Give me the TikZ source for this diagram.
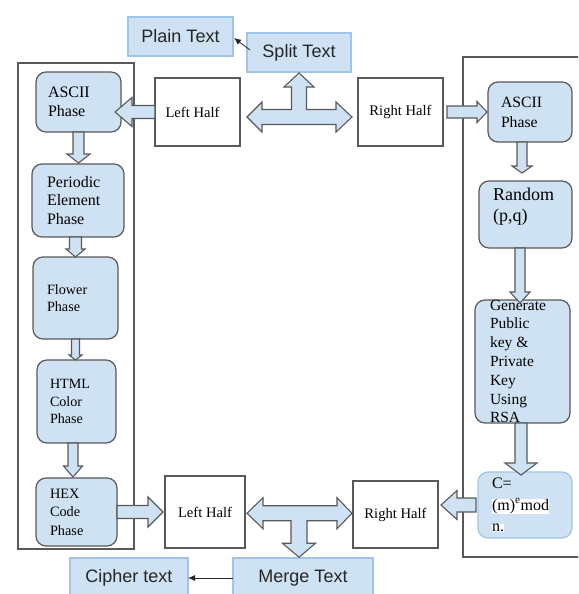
\documentclass[tikz,border=0pt]{standalone}
\usepackage{fontspec}
\setmainfont{Liberation Serif}
\newfontfamily\serf{Liberation Serif}
\newfontfamily\arialf{Liberation Sans}
\usetikzlibrary{calc,arrows.meta}
\definecolor{lb}{HTML}{CFE2F3}
\definecolor{bb}{HTML}{9FC5E8}
\definecolor{dg}{HTML}{595959}
\setlength{\fboxsep}{0pt}
\newcommand\phf[2]{\serf\fontsize{#1pt}{#2pt}\selectfont}
% block arrow: #1 start, #2 tip, #3 shaft half width, #4 head half width, #5 head length
\newcommand\blkarrow[5]{%
  \path ($(#2)!#5!(#1)$) coordinate (bah);
  \draw[blockarrow] ($(#1)!#3!90:(#2)$) -- ($(bah)!#3!90:(#2)$) -- ($(bah)!#4!90:(#2)$) -- (#2)
    -- ($(bah)!#4!-90:(#2)$) -- ($(bah)!#3!-90:(#2)$) -- ($(#1)!#3!-90:(#2)$) -- cycle;}
\begin{document}
\begin{tikzpicture}[x=1pt,y=-1pt,
  every node/.style={inner sep=0pt, outer sep=0pt, text=black},
  phase/.style={draw=dg, fill=lb, rounded corners=10pt, line width=1.2pt, align=left},
  half/.style={draw=dg, fill=white, line width=1.2pt, font=\phf{14.6}{17}},
  sansbox/.style={draw=bb, fill=lb, line width=1.2pt, font=\arialf\fontsize{18pt}{22pt}\selectfont, text=black!85},
  frame/.style={draw=dg, line width=1.2pt},
  blockarrow/.style={draw=dg, fill=lb, line width=1.1pt, line join=miter},
  thinarrow/.style={draw=black!85, line width=0.8pt, -{Latex[length=7pt,width=6pt]}}
]
\clip (0,0) rectangle (578,594);
\fill[white] (0,0) rectangle (578,594);

% frames
\node[frame, minimum width=116pt, minimum height=486pt] (lfr) at (76,306) {};
\node[frame, minimum width=140pt, minimum height=500pt] (rfr) at (533,307) {};

% top labels
\node[sansbox, minimum width=105pt, minimum height=39pt] (pt) at (180.5,36.5) {Plain Text};
\node[sansbox, minimum width=104pt, minimum height=39pt] (st) at (299,52.5) {Split Text};

% left column
\node[phase, minimum width=85pt, minimum height=60pt, text width=61pt, font=\phf{16}{19}] (asL) at (78.5,102) {ASCII\\Phase};
\node[phase, minimum width=92pt, minimum height=73pt, text width=62pt, font=\phf{16}{18.7}] (peL) at (78,200.5) {Periodic\\Element\\Phase};
\node[phase, minimum width=85pt, minimum height=82pt, text width=57pt, font=\phf{14.2}{17.5}] (flL) at (75.5,298) {Flower\\Phase};
\node[phase, minimum width=79pt, minimum height=83pt, text width=53pt, font=\phf{14.1}{17.5}] (htL) at (76.5,401.5) {HTML\\Color\\Phase};
\node[phase, minimum width=81pt, minimum height=68pt, text width=53pt, font=\phf{14.3}{18.5}] (hxL) at (76.5,512) {HEX\\Code\\Phase};

% right column
\node[phase, minimum width=84pt, minimum height=60pt, text width=58pt, font=\phf{15.7}{20}] (asR) at (530,112) {ASCII\\Phase};
\node[phase, minimum width=93pt, minimum height=67pt] (rnR) at (525.5,214.5) {};
\node[anchor=west, align=left, font=\phf{18}{21}] (rnT) at ($(rnR.west)+(14,-8)$) {Random\\(p,q)};
\node[phase, minimum width=95pt, minimum height=123pt] (gnR) at (522.5,361.5) {};
\node[anchor=west, align=left, font=\phf{15.5}{18.8}] (gnT) at ($(gnR.west)+(15,0)$) {Generate\\Public\\key \&\\Private\\Key\\Using\\RSA};
\node[phase, draw=bb, minimum width=94pt, minimum height=66pt, text width=66pt, font=\phf{16}{21.7}] (cR) at (525,505) {C=\\\colorbox{white}{(m)\textsuperscript{e}mod}\\\colorbox{white}{n.}};

% halves
\node[half, minimum width=85pt, minimum height=68pt] (lhT) at (197.5,112) {\hspace*{-10pt}Left Half};
\node[half, minimum width=85pt, minimum height=68pt] (rhT) at (400.5,112) {Right Half};
\node[half, minimum width=80pt, minimum height=72pt] (lhB) at (205,512) {Left Half};
\node[half, minimum width=85pt, minimum height=67pt] (rhB) at (395.5,514.5) {Right Half};

% bottom labels
\node[sansbox, minimum width=118pt, minimum height=40pt] (ct) at (129,578) {Cipher text};
\node[sansbox, minimum width=140pt, minimum height=40pt] (mt) at (303,578) {Merge Text};

% block arrows
\coordinate (a1s) at (lhT.west);
\coordinate (a1e) at ($(asL.east |- lhT.west)+(-6,0)$);
\blkarrow{a1s}{a1e}{6.5pt}{14.5pt}{17pt}
\coordinate (a2s) at (asL.south);
\coordinate (a2e) at ($(asL.south |- peL.north)+(0,-1)$);
\blkarrow{a2s}{a2e}{5.5pt}{11.5pt}{9pt}
\coordinate (a3s) at (flL.north |- peL.south);
\coordinate (a3e) at (flL.north);
\blkarrow{a3s}{a3e}{6pt}{9.5pt}{8pt}
\coordinate (a4s) at (flL.south);
\coordinate (a4e) at (flL.south |- htL.north);
\blkarrow{a4s}{a4e}{4pt}{6.5pt}{5pt}
\coordinate (a5s) at ($(htL.south)+(-3.5,0)$);
\coordinate (a5e) at ($(htL.south |- hxL.north)+(-3.5,-1)$);
\blkarrow{a5s}{a5e}{5pt}{9.5pt}{11pt}
\coordinate (a6s) at (hxL.east);
\coordinate (a6e) at ($(lhB.west)+(-2,0)$);
\blkarrow{a6s}{a6e}{6.5pt}{15pt}{15pt}
\coordinate (a8s) at ($(cR.west)+(-2,0)$);
\coordinate (a8e) at ($(rhB.east |- cR.west)+(3,0)$);
\blkarrow{a8s}{a8e}{7pt}{14.5pt}{16pt}
\coordinate (a9s) at ($(rhT.east)+(4,0)$);
\coordinate (a9e) at ($(asR.west)+(-1,0)$);
\blkarrow{a9s}{a9e}{6pt}{10.5pt}{10pt}
\coordinate (a10s) at ($(asR.south)+(-8,0)$);
\coordinate (a10e) at ($(asR.south |- rnR.north)+(-8,-8)$);
\blkarrow{a10s}{a10e}{5pt}{10pt}{7pt}
\coordinate (a11s) at ($(rnR.south)+(-5.5,0)$);
\coordinate (a11e) at ($(rnR.south |- gnR.north)+(-5.5,3)$);
\blkarrow{a11s}{a11e}{5pt}{10pt}{11pt}
\coordinate (a12s) at ($(gnR.south)+(-1.5,0)$);
\coordinate (a12e) at ($(gnR.south |- cR.north)+(-1.5,3)$);
\blkarrow{a12s}{a12e}{6pt}{16pt}{12pt}

% top split cross arrow
\begin{scope}[shift={($(lhT.east)!0.5!(rhT.west)+(0,5)$)}]
\draw[blockarrow] (-52,0) -- (-37,-15) -- (-37,-7.5) -- (-7.5,-7.5) -- (-7.5,-30) -- (-15,-30) -- (0,-44)
  -- (15,-30) -- (7.5,-30) -- (7.5,-7.5) -- (37,-7.5) -- (37,-15) -- (53,0) -- (37,15) -- (37,7.5)
  -- (-37,7.5) -- (-37,15) -- cycle;
\end{scope}
% bottom merge cross arrow
\begin{scope}[shift={($(lhB.east)!0.5!(rhB.west)$)}]
\draw[blockarrow] (-52,0) -- (-36,-15.5) -- (-36,-7.5) -- (38,-7.5) -- (38,-15.5) -- (53,0) -- (38,15.5)
  -- (38,7.5) -- (8,7.5) -- (8,30) -- (16.5,30) -- (0,44) -- (-16.5,30) -- (-8,30) -- (-8,7.5)
  -- (-36,7.5) -- (-36,15.5) -- cycle;
\end{scope}

% thin arrows
\draw[thinarrow] ($(st.west)+(3,-2.5)$) -- ($(pt.east)+(1,1.5)$);
\draw[thinarrow] (mt.west) -- (ct.east);
\end{tikzpicture}
\end{document}
